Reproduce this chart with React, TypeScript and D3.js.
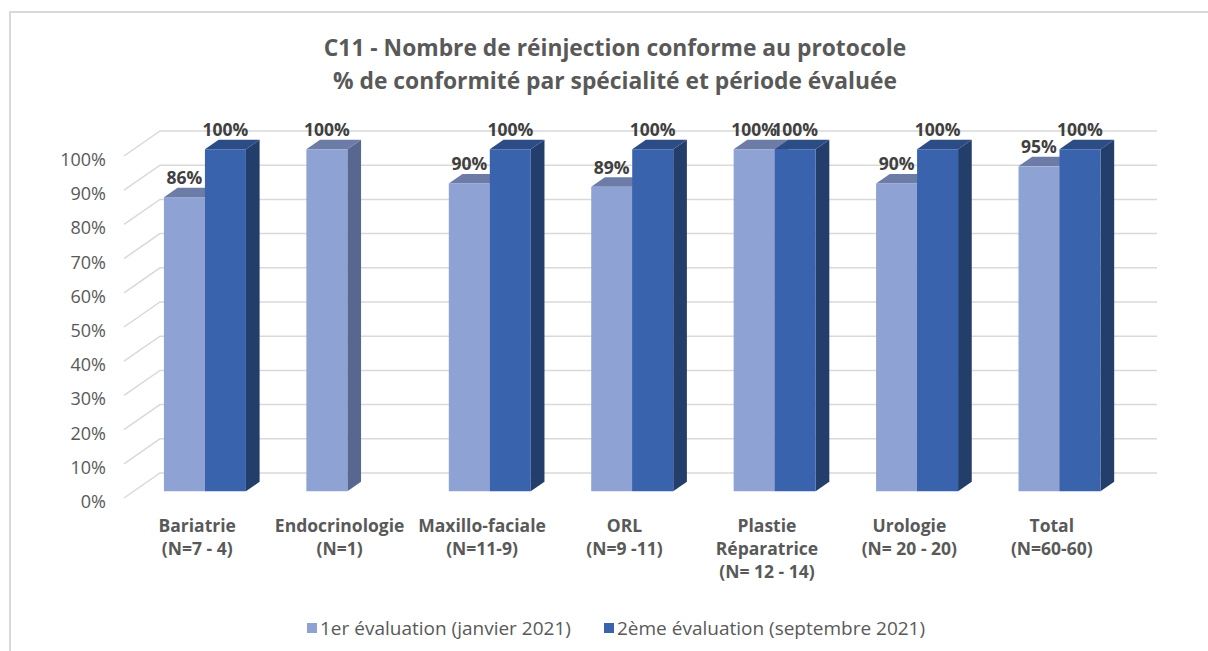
import React from "react";
import * as d3 from "d3";

// Chart values
const categories = ["Bariatrie", "Endocrinologie", "Maxillo-faciale", "ORL", "Plastie", "Urologie", "Total"];
const categoryLabels = [
  ["Bariatrie", "(N=7 - 4)"],
  ["Endocrinologie", "(N=1)"],
  ["Maxillo-faciale", "(N=11-9)"],
  ["ORL", "(N=9 -11)"],
  ["Plastie", "Réparatrice", "(N= 12 - 14)"],
  ["Urologie", "(N= 20 - 20)"],
  ["Total", "(N=60-60)"],
];
const eval1 = [0.86, 1.0, 0.9, 0.89, 1.0, 0.9, 0.95];
const eval2: (number | null)[] = [1.0, null, 1.0, 1.0, 1.0, 1.0, 1.0];
const seriesNames = ["1er évaluation (janvier 2021)", "2ème évaluation (septembre 2021)"];
const titleLines = [
  "C11 - Nombre de réinjection conforme au protocole",
  "% de conformité par spécialité et période évaluée",
];

const W = 1208;
const H = 651;
const FONT = "'Open Sans', Lato, sans-serif";

// 3D depth vector (front plane -> back wall)
const DX = 36;
const DY = -25;
const F_FRONT = 0.27;
const F_BACK = 0.65;

const palettes = [
  { front: "#8fa2d4", top: "#6c7ca6", side: "#58678f" },
  { front: "#3a63ad", top: "#2c4c86", side: "#243e6c" },
];

const App: React.FC = () => {
  const x = d3.scaleBand<string>().domain(categories).range([124, 1121]);
  const y = d3.scaleLinear().domain([0, 1]).range([498, 156]);
  const barW = 41;
  const x1 = d3
    .scaleBand<number>()
    .domain([0, 1])
    .range([(x.bandwidth() - 2 * barW) / 2, (x.bandwidth() + 2 * barW) / 2]);

  const ticks = y.ticks(10);
  const series = [eval1, eval2];

  const bars: JSX.Element[] = [];
  const labels: JSX.Element[] = [];
  categories.forEach((c, i) => {
    series.forEach((s, si) => {
      const v = s[i];
      if (v == null) return;
      const pal = palettes[si];
      const xl = (x(c) as number) + x1(si)! + DX * F_FRONT;
      const xr = xl + barW;
      const yt = y(v) + DY * F_FRONT;
      const yb = y(0) + DY * F_FRONT;
      const ddx = DX * (F_BACK - F_FRONT);
      const ddy = DY * (F_BACK - F_FRONT);
      bars.push(
        <g key={`${c}-${si}`}>
          <polygon
            points={`${xr},${yt} ${xr + ddx},${yt + ddy} ${xr + ddx},${yb + ddy} ${xr},${yb}`}
            fill={pal.side}
          />
          <polygon
            points={`${xl},${yt} ${xr},${yt} ${xr + ddx},${yt + ddy} ${xl + ddx},${yt + ddy}`}
            fill={pal.top}
          />
          <rect x={xl} y={yt} width={barW} height={yb - yt} fill={pal.front} />
        </g>
      );
      labels.push(
        <text
          key={`l-${c}-${si}`}
          x={xl + barW / 2}
          y={yt - 20}
          textAnchor="middle"
          dominantBaseline="central"
          fontFamily={FONT}
          fontWeight="bold"
          fontSize={17.5}
          fill="#404040"
        >
          {d3.format(".0%")(v)}
        </text>
      );
    });
  });

  return (
    <svg
      width={W}
      height={H}
      style={{ position: "absolute", left: 0, top: 0, background: "#fff" }}
    >
      <rect x={0} y={0} width={W} height={H} fill="#fff" />
      {/* frame */}
      <path d={`M10,${H} V12 H${W}`} fill="none" stroke="#d9d9d9" strokeWidth={2} />

      {/* title */}
      {titleLines.map((t, i) => (
        <text
          key={t}
          x={615}
          y={47 + i * 33}
          textAnchor="middle"
          dominantBaseline="central"
          fontFamily={FONT}
          fontWeight="bold"
          fontSize={22.8}
          fill="#595959"
        >
          {t}
        </text>
      ))}

      {/* gridlines */}
      {ticks.map((t) => (
        <polyline
          key={t}
          points={`124,${y(t)} ${124 + DX},${y(t) + DY} ${1121 + DX},${y(t) + DY}`}
          fill="none"
          stroke="#d9d9d9"
          strokeWidth={1.5}
        />
      ))}

      {/* y tick labels */}
      {ticks.map((t) => (
        <text
          key={`t${t}`}
          x={106}
          y={y(t) + 3}
          textAnchor="end"
          dominantBaseline="central"
          fontFamily={FONT}
          fontSize={18}
          fill="#595959"
        >
          {d3.format(".0%")(t)}
        </text>
      ))}

      {bars}
      {labels}

      {/* category labels */}
      {categories.map((c, i) => (
        <text
          key={`c-${c}`}
          x={(x(c) as number) + x.bandwidth() / 2 + 2}
          y={525}
          textAnchor="middle"
          dominantBaseline="central"
          fontFamily={FONT}
          fontWeight="bold"
          fontSize={17.5}
          fill="#595959"
        >
          {categoryLabels[i].map((line, li) => (
            <tspan key={li} x={(x(c) as number) + x.bandwidth() / 2 + 2} y={525 + li * 23}>
              {line}
            </tspan>
          ))}
        </text>
      ))}

      {/* legend */}
      {seriesNames.map((n, i) => {
        const lx = [307, 604][i];
        return (
          <g key={n}>
            <rect x={lx} y={623} width={10} height={10} fill={palettes[i].front} />
            <text
              x={lx + 13}
              y={628}
              dominantBaseline="central"
              fontFamily={FONT}
              fontSize={19}
              fill="#595959"
            >
              {n}
            </text>
          </g>
        );
      })}
    </svg>
  );
};

export default App;
